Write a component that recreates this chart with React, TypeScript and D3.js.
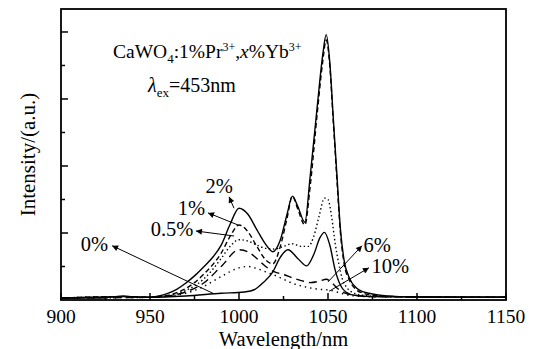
import React, { useMemo } from "react";
import * as d3 from "d3";

const width = 536;
const height = 349;
const marginTop = 9;
const marginRight = 30;
const marginBottom = 49;
const marginLeft = 61;

const xMajor = [900, 950, 1000, 1050, 1100, 1150];
const xMinor = [925, 975, 1025, 1075, 1125];
const yMajor = [1, 2, 3, 4];
const yMinor = [0.5, 1.5, 2.5, 3.5];

// emission spectra, [wavelength nm, intensity a.u.]
const pct0: [number, number][] = [
    [900, 0.03], [935, 0.05], [950, 0.04], [970, 0.06], [990, 0.1], [1003, 0.12],
    [1009, 0.16], [1014, 0.27], [1019, 0.42], [1023, 0.63], [1027.5, 0.75],
    [1033, 0.62], [1038, 0.51], [1042, 0.68], [1045.5, 0.93], [1048, 1.01],
    [1051, 0.82], [1054, 0.45], [1057, 0.22], [1060, 0.12], [1065, 0.07],
    [1075, 0.05], [1150, 0.04],
];
const pct05: [number, number][] = [
    [900, 0.03], [935, 0.05], [950, 0.04], [955, 0.05], [960, 0.06], [965, 0.09],
    [970, 0.14], [975, 0.21], [980, 0.31], [985, 0.45], [990, 0.62], [995, 0.8],
    [1000, 0.9], [1005, 0.88], [1010, 0.82], [1015, 0.77], [1020, 0.76],
    [1025, 0.8], [1030, 0.84], [1035, 0.8], [1039, 0.8], [1042, 0.95],
    [1045, 1.25], [1048, 1.52], [1050, 1.5], [1052, 1.25], [1054, 0.85],
    [1056, 0.55], [1058, 0.32], [1061, 0.17], [1065, 0.1], [1070, 0.07],
    [1080, 0.05], [1150, 0.04],
];
const pct1: [number, number][] = [
    [900, 0.03], [935, 0.05], [950, 0.04], [955, 0.05], [960, 0.07], [965, 0.11],
    [970, 0.17], [975, 0.26], [980, 0.38], [985, 0.52], [990, 0.7], [995, 0.95],
    [1000, 1.12], [1005, 1.02], [1010, 0.8], [1015, 0.6], [1019, 0.54],
    [1023, 0.78], [1027, 1.22], [1030, 1.55], [1033, 1.36], [1037, 1.12],
    [1040, 1.7], [1044, 2.8], [1047, 3.55], [1049, 3.88], [1051, 3.5],
    [1053, 2.65], [1055, 1.8], [1057, 1.0], [1059, 0.55], [1062, 0.3],
    [1066, 0.15], [1070, 0.1], [1075, 0.07], [1090, 0.05], [1150, 0.04],
];
const pct2: [number, number][] = [
    [900, 0.03], [920, 0.03], [930, 0.05], [935, 0.06], [940, 0.05], [950, 0.04],
    [955, 0.06], [960, 0.1], [965, 0.16], [970, 0.25], [975, 0.36], [980, 0.49],
    [985, 0.63], [990, 0.82], [995, 1.13], [1000, 1.37], [1005, 1.28],
    [1010, 1.05], [1015, 0.83], [1019, 0.72], [1023, 0.88], [1027, 1.28],
    [1030, 1.55], [1033, 1.4], [1037, 1.16], [1040, 1.85], [1044, 2.9],
    [1047, 3.65], [1049, 3.96], [1051, 3.55], [1053, 2.7], [1055, 1.87],
    [1057, 1.05], [1059, 0.6], [1062, 0.33], [1066, 0.18], [1070, 0.12],
    [1075, 0.09], [1090, 0.05], [1110, 0.04], [1150, 0.04],
];
const pct6: [number, number][] = [
    [900, 0.03], [950, 0.04], [960, 0.06], [970, 0.12], [980, 0.25], [990, 0.5],
    [1000, 0.75], [1005, 0.72], [1010, 0.62], [1015, 0.5], [1020, 0.42],
    [1025, 0.38], [1030, 0.33], [1035, 0.29], [1040, 0.26], [1045, 0.28],
    [1049, 0.31], [1052, 0.26], [1055, 0.18], [1060, 0.1], [1065, 0.07],
    [1075, 0.05], [1150, 0.04],
];
const pct10: [number, number][] = [
    [900, 0.03], [950, 0.04], [960, 0.06], [970, 0.1], [980, 0.2], [990, 0.35],
    [1000, 0.48], [1005, 0.5], [1010, 0.47], [1015, 0.42], [1020, 0.37],
    [1025, 0.31], [1030, 0.25], [1035, 0.21], [1040, 0.18], [1045, 0.16],
    [1050, 0.15], [1055, 0.12], [1060, 0.08], [1065, 0.06], [1075, 0.05],
    [1150, 0.04],
];

const series = [
    { name: "0%", data: pct0, dash: "none" },
    { name: "0.5%", data: pct05, dash: "1.4,2.6" },
    { name: "1%", data: pct1, dash: "5,3" },
    { name: "2%", data: pct2, dash: "none" },
    { name: "6%", data: pct6, dash: "8,5" },
    { name: "10%", data: pct10, dash: "1.4,4" },
];

// arrow callouts in data units: tail on the curve, head at the label
const callouts = [
    { text: "0%", from: [985.4, 0.1], to: [928.7, 0.81], at: [926.4, 0.73], anchor: "end" },
    { text: "0.5%", from: [997.2, 0.955], to: [975.8, 1.03], at: [974.4, 0.955], anchor: "end" },
    { text: "1%", from: [999.4, 1.12], to: [982.6, 1.3], at: [980.9, 1.27], anchor: "end" },
    { text: "2%", from: [997.2, 1.37], to: [994.4, 1.54], at: [988.8, 1.6], anchor: "middle" },
    { text: "6%", from: [1050, 0.27], to: [1069.1, 0.81], at: [1070, 0.72], anchor: "start" },
    { text: "10%", from: [1050.6, 0.13], to: [1073, 0.48], at: [1074.4, 0.4], anchor: "start" },
];

const font = "'Liberation Serif', 'Times New Roman', serif";

export default function App() {
    const x = useMemo(
        () => d3.scaleLinear([900, 1150], [marginLeft, width - marginRight]),
        []
    );
    const y = useMemo(
        () => d3.scaleLinear([0, 4.343], [height - marginBottom, marginTop]),
        []
    );
    const line = useMemo(
        () =>
            d3
                .line<[number, number]>()
                .x((d) => x(d[0]))
                .y((d) => y(d[1]))
                .curve(d3.curveMonotoneX),
        [x, y]
    );

    const y0 = height - marginBottom;
    const x0 = marginLeft;
    const x1 = width - marginRight;

    return (
        <svg
            width={width}
            height={height}
            style={{ position: "absolute", top: 0, left: 0, background: "#fff" }}
            fontFamily={font}
        >
            <defs>
                <marker
                    id="head"
                    viewBox="0 0 10 10"
                    refX={10}
                    refY={5}
                    markerWidth={9}
                    markerHeight={6}
                    markerUnits="userSpaceOnUse"
                    orient="auto"
                >
                    <path d="M0,0L10,5L0,10z" fill="#000" />
                </marker>
            </defs>

            {series.map((s) => (
                <path
                    key={s.name}
                    d={line(s.data) || ""}
                    fill="none"
                    stroke="#000"
                    strokeWidth={1.4}
                    strokeDasharray={s.dash}
                />
            ))}

            {/* ticks point inwards */}
            {xMajor.map((t) => (
                <line key={"xM" + t} x1={x(t)} x2={x(t)} y1={y0} y2={y0 - 7} stroke="#000" strokeWidth={1.5} />
            ))}
            {xMinor.map((t) => (
                <line key={"xm" + t} x1={x(t)} x2={x(t)} y1={y0} y2={y0 - 4} stroke="#000" strokeWidth={1.5} />
            ))}
            {yMajor.map((t) => (
                <line key={"yM" + t} x1={x0} x2={x0 + 7} y1={y(t)} y2={y(t)} stroke="#000" strokeWidth={1.5} />
            ))}
            {yMinor.map((t) => (
                <line key={"ym" + t} x1={x0} x2={x0 + 4} y1={y(t)} y2={y(t)} stroke="#000" strokeWidth={1.5} />
            ))}
            <rect
                x={x0}
                y={marginTop}
                width={x1 - x0}
                height={y0 - marginTop}
                fill="none"
                stroke="#000"
                strokeWidth={1.8}
            />

            {xMajor.map((t) => (
                <text key={"xl" + t} x={x(t)} y={322.5} fontSize={19.5} textAnchor="middle">
                    {t}
                </text>
            ))}
            <text x={(x0 + x1) / 2} y={345.5} fontSize={20.5} textAnchor="middle">
                Wavelength/nm
            </text>
            <text
                transform={`translate(35,${(marginTop + y0) / 2}) rotate(-90)`}
                fontSize={21}
                textAnchor="middle"
            >
                Intensity/(a.u.)
            </text>

            <text x={113} y={58} fontSize={19.5}>
                CaWO<tspan dy={5} fontSize={13}>4</tspan>
                <tspan dy={-5}>:1%Pr</tspan>
                <tspan dy={-7} fontSize={12}>3+</tspan>
                <tspan dy={7}>,</tspan>
                <tspan fontStyle="italic">x</tspan>
                <tspan>%Yb</tspan>
                <tspan dy={-7} fontSize={12}>3+</tspan>
            </text>
            <text x={148} y={92} fontSize={20}>
                <tspan fontStyle="italic">λ</tspan>
                <tspan dy={5} fontSize={13}>ex</tspan>
                <tspan dy={-5}>=453nm</tspan>
            </text>

            {callouts.map((c) => (
                <g key={c.text}>
                    <line
                        x1={x(c.from[0])}
                        y1={y(c.from[1])}
                        x2={x(c.to[0])}
                        y2={y(c.to[1])}
                        stroke="#000"
                        strokeWidth={1}
                        markerEnd="url(#head)"
                    />
                    <text
                        x={x(c.at[0])}
                        y={y(c.at[1])}
                        fontSize={20.5}
                        textAnchor={c.anchor}
                    >
                        {c.text}
                    </text>
                </g>
            ))}
        </svg>
    );
}
